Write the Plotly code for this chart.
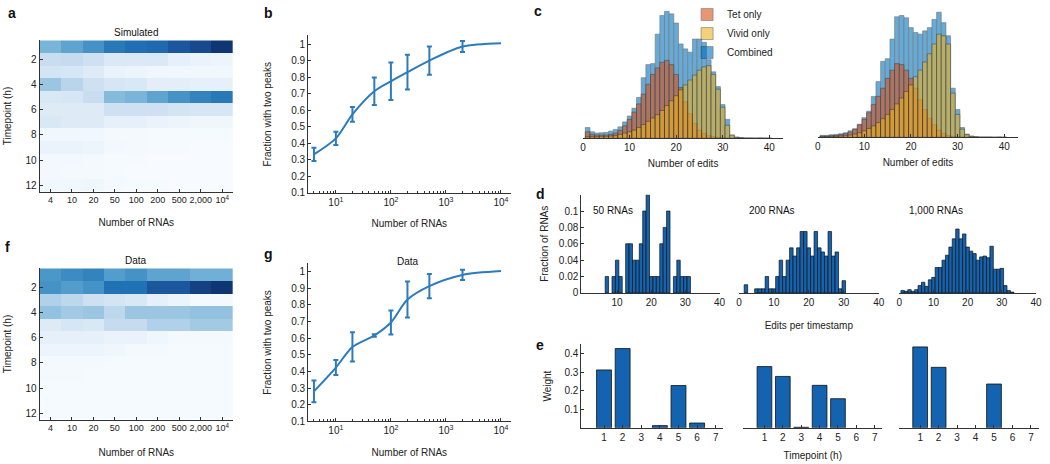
import plotly.graph_objects as go

W, H = 1050, 464
FONT = "Liberation Sans, Arial, sans-serif"
TXT = "#222222"
LINE = "#333333"

# ---------------- data ----------------
rna_labels = ["4", "10", "20", "50", "100", "200", "500", "2,000", "10<sup>4</sup>"]
rna_counts = [4, 10, 20, 50, 100, 200, 500, 2000, 10000]
timepoints = list(range(1, 13))

sim_weights = [
    [0.48, 0.55, 0.62, 0.72, 0.76, 0.78, 0.85, 0.90, 0.97],
    [0.28, 0.30, 0.25, 0.17, 0.17, 0.17, 0.10, 0.08, 0.06],
    [0.22, 0.20, 0.15, 0.08, 0.06, 0.05, 0.04, 0.04, 0.04],
    [0.40, 0.33, 0.25, 0.20, 0.18, 0.12, 0.12, 0.10, 0.10],
    [0.18, 0.20, 0.28, 0.45, 0.48, 0.55, 0.62, 0.68, 0.72],
    [0.15, 0.15, 0.15, 0.25, 0.25, 0.25, 0.22, 0.20, 0.20],
    [0.18, 0.15, 0.15, 0.10, 0.10, 0.08, 0.06, 0.05, 0.05],
    [0.04, 0.04, 0.04, 0.02, 0.02, 0.01, 0.01, 0.01, 0.01],
    [0.08, 0.08, 0.06, 0.03, 0.02, 0.01, 0.01, 0.00, 0.00],
    [0.03, 0.03, 0.02, 0.01, 0.01, 0.00, 0.00, 0.00, 0.00],
    [0.03, 0.02, 0.02, 0.01, 0.00, 0.00, 0.00, 0.00, 0.00],
    [0.04, 0.04, 0.05, 0.02, 0.01, 0.01, 0.00, 0.00, 0.00],
]
data_weights = [
    [0.60, 0.65, 0.68, 0.58, 0.62, 0.55, 0.55, 0.50, 0.50],
    [0.62, 0.58, 0.62, 0.75, 0.75, 0.85, 0.85, 0.93, 0.97],
    [0.35, 0.32, 0.25, 0.22, 0.18, 0.10, 0.07, 0.02, 0.02],
    [0.42, 0.38, 0.40, 0.32, 0.40, 0.40, 0.40, 0.42, 0.42],
    [0.15, 0.20, 0.18, 0.30, 0.30, 0.35, 0.35, 0.38, 0.38],
    [0.10, 0.10, 0.10, 0.08, 0.08, 0.05, 0.02, 0.02, 0.02],
    [0.06, 0.06, 0.06, 0.05, 0.02, 0.02, 0.01, 0.01, 0.01],
    [0.02, 0.02, 0.02, 0.01, 0.01, 0.01, 0.01, 0.01, 0.01],
    [0.02, 0.02, 0.01, 0.01, 0.01, 0.01, 0.01, 0.01, 0.01],
    [0.01, 0.01, 0.01, 0.01, 0.01, 0.01, 0.01, 0.01, 0.01],
    [0.01, 0.01, 0.01, 0.01, 0.01, 0.01, 0.01, 0.01, 0.01],
    [0.01, 0.01, 0.01, 0.01, 0.01, 0.01, 0.01, 0.01, 0.01],
]

b_frac = [0.333, 0.430, 0.575, 0.715, 0.775, 0.830, 0.900, 0.985, 1.005]
b_err = [0.040, 0.040, 0.045, 0.083, 0.113, 0.105, 0.085, 0.033, 0.0]
g_frac = [0.280, 0.423, 0.547, 0.616, 0.694, 0.832, 0.913, 0.980, 1.003]
g_err = [0.065, 0.045, 0.088, 0.008, 0.072, 0.108, 0.073, 0.031, 0.0]

edit_bins = list(range(1, 41))
combined_left = [33, 20, 16, 17, 18, 22, 27, 35, 50, 68, 92, 125, 185, 225, 228, 318, 375, 388, 380, 352,
                 288, 273, 263, 303, 303, 293, 240, 203, 158, 103, 58, 10, 4, 2, 1, 1, 0, 1, 0, 0]
tet_left = [20, 12, 10, 10, 10, 12, 16, 24, 38, 58, 80, 105, 135, 165, 195, 215, 232, 238, 225, 195,
            155, 112, 75, 45, 25, 15, 8, 5, 3, 2, 1, 0, 0, 0, 0, 0, 0, 0, 0, 0]
vivid_left = [5, 5, 5, 6, 6, 7, 8, 12, 16, 20, 25, 33, 42, 52, 62, 72, 85, 100, 115, 130,
              148, 163, 178, 193, 208, 218, 222, 195, 150, 95, 40, 10, 3, 1, 0, 0, 0, 0, 0, 0]
combined_right = [6, 6, 8, 9, 11, 14, 20, 26, 40, 60, 80, 125, 170, 232, 240, 300, 368, 372, 365, 335,
                  320, 315, 325, 335, 360, 382, 350, 310, 150, 85, 30, 10, 4, 2, 1, 1, 1, 0, 1, 0]
tet_right = [4, 4, 5, 6, 8, 11, 16, 25, 38, 55, 75, 100, 125, 150, 180, 205, 225, 222, 205, 180,
             150, 115, 85, 58, 38, 22, 12, 6, 3, 2, 1, 0, 0, 0, 0, 0, 0, 0, 0, 0]
vivid_right = [2, 2, 3, 3, 4, 5, 7, 10, 14, 20, 27, 35, 45, 57, 70, 85, 102, 120, 140, 160,
               185, 205, 230, 255, 285, 315, 310, 285, 135, 70, 25, 8, 3, 1, 0, 0, 0, 0, 0, 0]

d50_edits = [7, 9, 10, 11, 13, 14, 15, 16, 17, 18, 19, 20, 21, 22, 23, 24, 25, 27, 28, 29, 30, 31]
d50_frac = [0.02, 0.02, 0.04, 0.02, 0.06, 0.06, 0.04, 0.04, 0.06, 0.10, 0.12, 0.02, 0.02, 0.02,
            0.06, 0.08, 0.10, 0.02, 0.04, 0.02, 0.02, 0.02]
d200_edits = [2, 5, 6, 7, 8, 9, 10, 11, 12, 13, 14, 15, 16, 17, 18, 19, 20, 21, 22, 23, 24, 25,
              26, 27, 28, 29, 30]
d200_frac = [0.01, 0.005, 0.005, 0.005, 0.02, 0.005, 0.005, 0.02, 0.04, 0.02, 0.04, 0.055, 0.045,
             0.055, 0.075, 0.075, 0.055, 0.045, 0.075, 0.055, 0.05, 0.045, 0.075, 0.045, 0.05,
             0.005, 0.015]
d1000_edits = list(range(1, 34))
d1000_frac = [0.003, 0.002, 0.004, 0.002, 0.004, 0.009, 0.013, 0.008, 0.016, 0.019, 0.031, 0.031,
              0.040, 0.046, 0.056, 0.066, 0.078, 0.066, 0.072, 0.056, 0.051, 0.048, 0.040, 0.044,
              0.045, 0.043, 0.057, 0.029, 0.029, 0.030, 0.009, 0.003, 0.001]

e_timepoints = [1, 2, 3, 4, 5, 6, 7]
e50_weight = [0.312, 0.427, 0.0, 0.012, 0.228, 0.026, 0.0]
e200_weight = [0.330, 0.277, 0.003, 0.229, 0.157, 0.0, 0.0]
e1000_weight = [0.436, 0.326, 0.0, 0.0, 0.236, 0.0, 0.0]

# ---------------- helpers ----------------
def dx(l, r):
    return [l / W, r / W]


def dy(t, b):
    return [1 - b / H, 1 - t / H]


def axis(fs=10, **kw):
    base = dict(showline=True, linecolor=LINE, linewidth=1, ticks="inside", ticklen=3,
                tickcolor=LINE, tickfont=dict(size=fs, color=TXT, family=FONT),
                showgrid=False, zeroline=False, fixedrange=True, tickangle=0)
    base.update(kw)
    return base


def title(text, standoff=4):
    return dict(text=text, font=dict(size=10, color=TXT, family=FONT), standoff=standoff)


blues = [[0.0, "#f7fbff"], [0.15, "#deebf7"], [0.3, "#c6dbef"], [0.45, "#85bcdc"],
         [0.6, "#4a98c9"], [0.75, "#2171b5"], [0.88, "#1a4f96"], [1.0, "#0b2d66"]]

BLUE_LINE = "#2c7bbd"
TET = "#D95319"
VIVID = "#EDB120"
COMB = "#0072BD"
BAR = "#1463b0"

fig = go.Figure()

# a, f heatmaps
fig.add_trace(go.Heatmap(z=sim_weights, x=rna_labels, y=timepoints, colorscale=blues,
                         zmin=0, zmax=1, showscale=False, xaxis="x", yaxis="y"))
fig.add_trace(go.Heatmap(z=data_weights, x=rna_labels, y=timepoints, colorscale=blues,
                         zmin=0, zmax=1, showscale=False, xaxis="x2", yaxis="y2"))

# b, g lines with error bars
for frac, err, xa, ya in [(b_frac, b_err, "x3", "y3"), (g_frac, g_err, "x4", "y4")]:
    fig.add_trace(go.Scatter(x=rna_counts, y=frac, mode="lines", line=dict(color=BLUE_LINE, width=2,
                             shape="spline", smoothing=0.8), showlegend=False, xaxis=xa, yaxis=ya))
    fig.add_trace(go.Scatter(x=rna_counts[:-1], y=frac[:-1], mode="markers",
                             marker=dict(size=1, color="rgba(0,0,0,0)"),
                             error_y=dict(type="data", array=err[:-1], width=2.5, thickness=2,
                                          color=BLUE_LINE),
                             showlegend=False, xaxis=xa, yaxis=ya))

# c histograms
for comb, tet, viv, xa, ya, leg in [(combined_left, tet_left, vivid_left, "x5", "y5", True),
                                    (combined_right, tet_right, vivid_right, "x6", "y6", False)]:
    for name, vals, col, rank in [("Combined", comb, COMB, 3), ("Tet only", tet, TET, 1),
                                  ("Vivid only", viv, VIVID, 2)]:
        fig.add_trace(go.Bar(x=edit_bins, y=vals, width=1, name=name, legendrank=rank,
                             marker=dict(color=col, line=dict(color="#1a1a1a", width=0.6)),
                             opacity=0.6, showlegend=leg, xaxis=xa, yaxis=ya))

# d histograms
for xs, ys, xa, ya in [(d50_edits, d50_frac, "x7", "y7"), (d200_edits, d200_frac, "x8", "y8"),
                       (d1000_edits, d1000_frac, "x9", "y9")]:
    fig.add_trace(go.Bar(x=xs, y=ys, width=1, marker=dict(color=BAR, line=dict(color="#111111", width=0.7)),
                         showlegend=False, xaxis=xa, yaxis=ya))

# e bars (only non-empty timepoints drawn)
for ws, xa, ya in [(e50_weight, "x10", "y10"), (e200_weight, "x11", "y11"), (e1000_weight, "x12", "y12")]:
    xs = [t for t, w in zip(e_timepoints, ws) if w > 0]
    ys = [w for w in ws if w > 0]
    fig.add_trace(go.Bar(x=xs, y=ys, width=0.8,
                         marker=dict(color=BAR, line=dict(color="#111111", width=0.8)),
                         showlegend=False, xaxis=xa, yaxis=ya))

log_minor = [m * 10 ** k for k in range(0, 4) for m in range(2, 10) if 3.2 < m * 10 ** k < 15000]
frac_ticks = [0.1, 0.2, 0.3, 0.4, 0.5, 0.6, 0.7, 0.8, 0.9, 1.0]
frac_text = ["0.1", "0.2", "0.3", "0.4", "0.5", "0.6", "0.7", "0.8", "0.9", "1"]
log_text = ["10<sup>1</sup>", "10<sup>2</sup>", "10<sup>3</sup>", "10<sup>4</sup>"]

layout = dict(
    width=W, height=H, margin=dict(l=0, r=0, t=0, b=0),
    paper_bgcolor="white", plot_bgcolor="white",
    font=dict(family=FONT, size=10, color=TXT),
    barmode="overlay", showlegend=True,
    legend=dict(x=690 / W, y=1 + 3 / H, xanchor="left", yanchor="top", itemwidth=30,
                font=dict(size=10, color=TXT, family=FONT), bgcolor="rgba(0,0,0,0)",
                tracegroupgap=0, itemclick=False, itemdoubleclick=False),
    # a
    xaxis=axis(fs=9, domain=dx(37, 232), anchor="y", type="category",
               title=title("Number of RNAs", 14)),
    yaxis=axis(fs=10, domain=dy(38, 192), anchor="x", range=[12.5, 0.5],
               tickvals=[2, 4, 6, 8, 10, 12], title=title("Timepoint (h)", 12)),
    # f
    xaxis2=axis(fs=9, domain=dx(37, 232), anchor="y2", type="category",
                title=title("Number of RNAs", 16)),
    yaxis2=axis(fs=10, domain=dy(270, 424), anchor="x2", range=[12.5, 0.5],
                tickvals=[2, 4, 6, 8, 10, 12], title=title("Timepoint (h)", 12)),
    # b
    xaxis3=axis(domain=dx(307.7, 512), anchor="y3", type="log", range=[0.495, 4.175],
                tickvals=[10, 100, 1000, 10000], ticktext=log_text,
                minor=dict(tickvals=log_minor, ticks="inside", ticklen=2, tickcolor=LINE),
                title=title("Number of RNAs", 13)),
    yaxis3=axis(domain=dy(33, 193.3), anchor="x3", range=[0.1, 1.052],
                tickvals=frac_ticks, ticktext=frac_text,
                title=title("Fraction with two peaks", 17)),
    # g
    xaxis4=axis(domain=dx(307.7, 512), anchor="y4", type="log", range=[0.495, 4.175],
                tickvals=[10, 100, 1000, 10000], ticktext=log_text,
                minor=dict(tickvals=log_minor, ticks="inside", ticklen=2, tickcolor=LINE),
                title=title("Number of RNAs", 13)),
    yaxis4=axis(domain=dy(265, 425.7), anchor="x4", range=[0.1, 1.049],
                tickvals=frac_ticks, ticktext=frac_text,
                title=title("Fraction with two peaks", 17)),
    # c
    xaxis5=axis(domain=dx(585, 787), anchor="y5", range=[0, 43], tickvals=[0, 10, 20, 30, 40],
                title=title("Number of edits", 7)),
    yaxis5=dict(domain=dy(7.7, 137.7), anchor="x5", range=[0, 390], visible=False, fixedrange=True),
    xaxis6=axis(domain=dx(821.7, 1024), anchor="y6", range=[0, 43], tickvals=[0, 10, 20, 30, 40],
                title=title("Number of edits", 7)),
    yaxis6=dict(domain=dy(6.7, 136.7), anchor="x6", range=[0, 390], visible=False, fixedrange=True),
    # d
    xaxis7=axis(domain=dx(583.3, 723), anchor="y7", range=[-0.5, 40.1], tickvals=[10, 20, 30, 40]),
    yaxis7=axis(domain=dy(195, 295), anchor="x7", range=[0, 0.12],
                tickvals=[0, 0.02, 0.04, 0.06, 0.08, 0.1],
                ticktext=["0", "0.02", "0.04", "0.06", "0.08", "0.1"],
                title=title("Fraction of RNAs", 8)),
    xaxis8=axis(domain=dx(742.3, 883.3), anchor="y8", range=[0, 40], tickvals=[0, 10, 20, 30, 40],
                title=title("Edits per timestamp", 15)),
    yaxis8=dict(domain=dy(195, 295), anchor="x8", range=[0, 0.12], visible=False, fixedrange=True),
    xaxis9=axis(domain=dx(904, 1042), anchor="y9", range=[0, 40], tickvals=[0, 10, 20, 30, 40]),
    yaxis9=dict(domain=dy(195, 295), anchor="x9", range=[0, 0.12], visible=False, fixedrange=True),
    # e
    xaxis10=axis(domain=dx(583.3, 726.4), anchor="y10", range=[-0.22, 7.4], tickvals=e_timepoints),
    yaxis10=axis(domain=dy(347.3, 432.3), anchor="x10", range=[0, 0.45],
                 tickvals=[0.1, 0.2, 0.3, 0.4], title=title("Weight", 10)),
    xaxis11=axis(domain=dx(746.7, 886.7), anchor="y11", range=[-0.15, 7.4], tickvals=e_timepoints,
                 title=title("Timepoint (h)", 10)),
    yaxis11=dict(domain=dy(347.3, 432.3), anchor="x11", range=[0, 0.45], visible=False, fixedrange=True),
    xaxis12=axis(domain=dx(903.3, 1045), anchor="y12", range=[-0.17, 7.44], tickvals=e_timepoints),
    yaxis12=dict(domain=dy(347.3, 432.3), anchor="x12", range=[0, 0.45], visible=False, fixedrange=True),
)

annotations = []


def note(text, x, y, size=10, bold=False, xanchor="center", fam=FONT):
    annotations.append(dict(text=f"<b>{text}</b>" if bold else text, x=x / W, y=1 - y / H,
                            xref="paper", yref="paper", showarrow=False, xanchor=xanchor,
                            yanchor="middle", font=dict(size=size, color="#111111", family=fam)))


for letter, x, y in [("a", 9, 10), ("b", 268, 10), ("c", 540, 8), ("d", 542, 194), ("e", 542, 348),
                     ("f", 5, 248), ("g", 268, 255)]:
    note(letter, x, y, size=14, bold=True)

note("Simulated", 134.5, 30)
note("Data", 134.5, 262)
note("Data", 409, 262.7)
note("50 RNAs", 593, 211, xanchor="left")
note("200 RNAs", 750, 211, xanchor="left")
note("1,000 RNAs", 912, 211, xanchor="left")

layout["annotations"] = annotations
fig.update_layout(**layout)

fig.write_html("out.html", config={"displayModeBar": False},
               post_script="document.body.style.margin='0';document.body.style.overflow='hidden';")
